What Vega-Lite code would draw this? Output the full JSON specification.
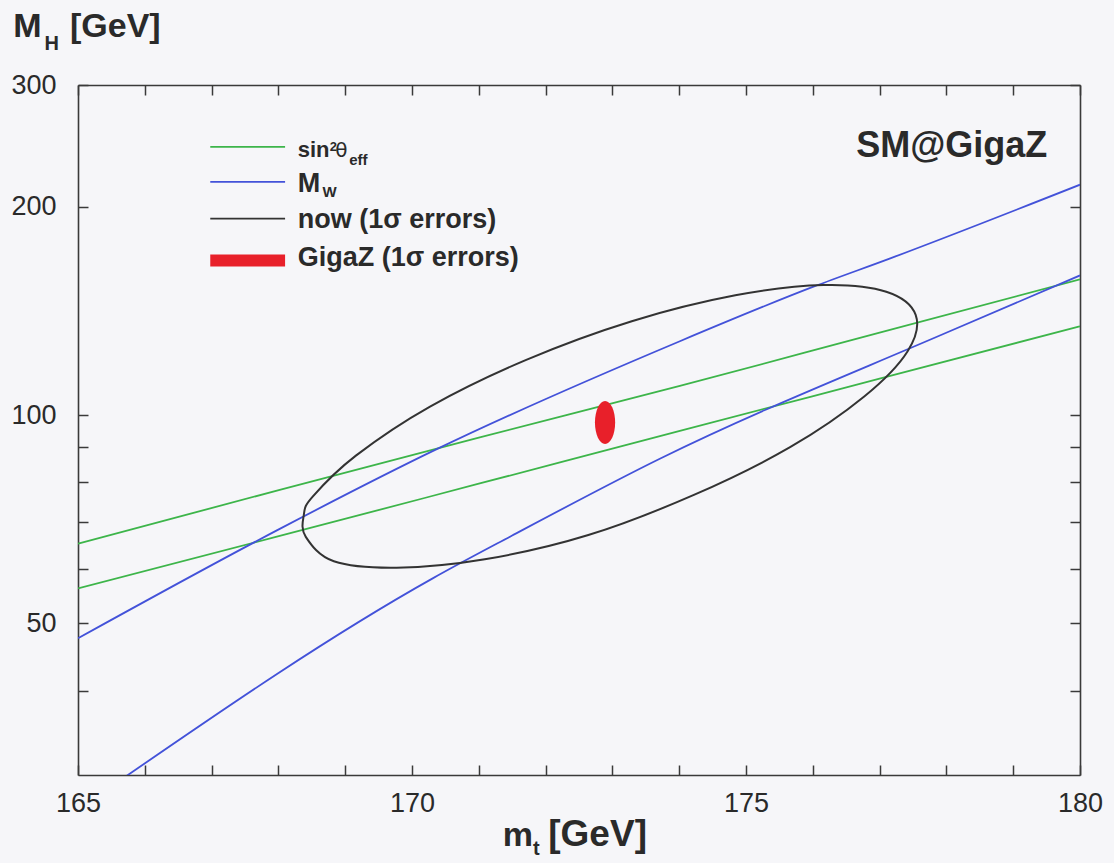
{
  "$schema": "https://vega.github.io/schema/vega-lite/v6.json",
  "width": 1002,
  "height": 690,
  "autosize": {"type": "none"},
  "padding": {"left": 78, "top": 85, "right": 34, "bottom": 88},
  "background": "#f6f6f9",
  "config": {
    "view": {"stroke": null},
    "axis": {"grid": false, "domainColor": "#3a3a3a", "domainWidth": 1.6, "tickColor": "#3a3a3a", "tickWidth": 1.5, "labelFont": "Liberation Sans", "labelFontSize": 27, "labelColor": "#2a2a2a", "labelFlush": false, "labelOverlap": false, "labelBound": false},
    "text": {"font": "Liberation Sans", "fontWeight": "bold", "color": "#2a2a2a"}
  },
  "resolve": {"axis": {"x": "independent", "y": "independent"}},
  "datasets": {
    "curves": [
      {"c": "g1", "s": "sin2", "mt": 165, "MH": 65.2},
      {"c": "g1", "s": "sin2", "mt": 168.02, "MH": 78.0},
      {"c": "g1", "s": "sin2", "mt": 171, "MH": 92.8},
      {"c": "g1", "s": "sin2", "mt": 174.01, "MH": 110.2},
      {"c": "g1", "s": "sin2", "mt": 177, "MH": 131.6},
      {"c": "g1", "s": "sin2", "mt": 180, "MH": 157.1},
      {"c": "g2", "s": "sin2", "mt": 165, "MH": 56.2},
      {"c": "g2", "s": "sin2", "mt": 168.02, "MH": 66.9},
      {"c": "g2", "s": "sin2", "mt": 171, "MH": 79.6},
      {"c": "g2", "s": "sin2", "mt": 174.01, "MH": 94.9},
      {"c": "g2", "s": "sin2", "mt": 177, "MH": 112.9},
      {"c": "g2", "s": "sin2", "mt": 180, "MH": 134.4},
      {"c": "w1", "s": "MW", "mt": 165, "MH": 47.6},
      {"c": "w1", "s": "MW", "mt": 168.02, "MH": 68.5},
      {"c": "w1", "s": "MW", "mt": 170.37, "MH": 89.3},
      {"c": "w1", "s": "MW", "mt": 174.01, "MH": 127.9},
      {"c": "w1", "s": "MW", "mt": 176.03, "MH": 153.6},
      {"c": "w1", "s": "MW", "mt": 177.16, "MH": 168.5},
      {"c": "w1", "s": "MW", "mt": 180, "MH": 215.3},
      {"c": "w2", "s": "MW", "mt": 165.66, "MH": 29.8},
      {"c": "w2", "s": "MW", "mt": 170.31, "MH": 58.1},
      {"c": "w2", "s": "MW", "mt": 171.5, "MH": 67.0},
      {"c": "w2", "s": "MW", "mt": 173.71, "MH": 86.5},
      {"c": "w2", "s": "MW", "mt": 178.05, "MH": 132.2},
      {"c": "w2", "s": "MW", "mt": 180, "MH": 159.2}
    ],
    "ellipse": [
      {"o": 1, "mt": 177.54, "MH": 139.6},
      {"o": 2, "mt": 177.42, "MH": 123.7},
      {"o": 3, "mt": 176.77, "MH": 106.4},
      {"o": 4, "mt": 175.66, "MH": 89.9},
      {"o": 5, "mt": 174.22, "MH": 76.7},
      {"o": 6, "mt": 172.64, "MH": 67.1},
      {"o": 7, "mt": 171.09, "MH": 61.9},
      {"o": 8, "mt": 169.77, "MH": 60.2},
      {"o": 9, "mt": 168.83, "MH": 61.5},
      {"o": 10, "mt": 168.41, "MH": 66.7},
      {"o": 11, "mt": 168.38, "MH": 71.7},
      {"o": 12, "mt": 168.51, "MH": 76.2},
      {"o": 13, "mt": 169.16, "MH": 87.4},
      {"o": 14, "mt": 170.27, "MH": 102.9},
      {"o": 15, "mt": 171.71, "MH": 120.2},
      {"o": 16, "mt": 173.29, "MH": 136.7},
      {"o": 17, "mt": 174.84, "MH": 149.0},
      {"o": 18, "mt": 176.16, "MH": 154.2},
      {"o": 19, "mt": 177.1, "MH": 150.8}
    ],
    "legendLines": [
      {"s": "sin2", "mt": 166.98, "MH": 244.2},
      {"s": "sin2", "mt": 168.1, "MH": 244.2},
      {"s": "MW", "mt": 166.98, "MH": 217.4},
      {"s": "MW", "mt": 168.1, "MH": 217.4},
      {"s": "now", "mt": 166.98, "MH": 192.3},
      {"s": "now", "mt": 168.1, "MH": 192.3}
    ],
    "legendBar": [
      {"s": "GigaZ", "mt": 166.98, "MH": 167.3},
      {"s": "GigaZ", "mt": 168.1, "MH": 167.3}
    ],
    "blob": [{"s": "GigaZ", "mt": 172.89, "MH": 97.6}],
    "texts": [
      {"t": "sin", "r": "sin", "mt": 168.29, "MH": 236.2},
      {"t": "2", "r": "sup", "mt": 168.77, "MH": 240.5},
      {"t": "eff", "r": "sub", "mt": 169.06, "MH": 230.1},
      {"t": "M", "r": "leg", "mt": 168.29, "MH": 210.4},
      {"t": "W", "r": "sub", "mt": 168.66, "MH": 206.9},
      {"t": "now (1σ errors)", "r": "leg", "mt": 168.29, "MH": 186.7},
      {"t": "GigaZ (1σ errors)", "r": "leg", "mt": 168.29, "MH": 164.0},
      {"t": "M", "r": "title", "mt": 164.03, "MH": 351.8},
      {"t": "H", "r": "tsub", "mt": 164.5, "MH": 336.9},
      {"t": "[GeV]", "r": "title", "mt": 164.88, "MH": 351.8},
      {"t": "m", "r": "title", "mt": 171.36, "MH": 23.87},
      {"t": "t", "r": "tsub", "mt": 171.81, "MH": 23.16},
      {"t": "[GeV]", "r": "titleb", "mt": 172.04, "MH": 23.87}
    ],
    "theta": [{"t": "θ", "mt": 168.85, "MH": 236.2}],
    "tag": [{"t": "SM@GigaZ", "mt": 179.51, "MH": 236.2}]
  },
  "layer": [
    {
      "data": {"name": "curves"},
      "mark": {"type": "line", "interpolate": "monotone", "strokeWidth": 1.8, "clip": true},
      "encoding": {
        "x": {"field": "mt", "type": "quantitative", "scale": {"domain": [165, 180]},
              "axis": {"orient": "bottom", "title": null, "values": [165,166,167,168,169,170,171,172,173,174,175,176,177,178,179,180], "format": "d", "labelExpr": "datum.value % 5 === 0 ? datum.label : ''", "tickSize": -10, "labelPadding": 25}},
        "y": {"field": "MH", "type": "quantitative", "scale": {"type": "log", "domain": [30.2, 300]},
              "axis": {"orient": "left", "title": null, "values": [40,50,60,70,80,90,100,200,300], "format": "d", "labelExpr": "indexof([50,100,200,300], datum.value) >= 0 ? datum.label : ''", "tickSize": -10, "labelPadding": 32}},
        "color": {"field": "s", "type": "nominal", "scale": {"domain": ["sin2", "MW", "now", "GigaZ"], "range": ["#3db54a", "#4352d9", "#333333", "#e8202a"]}, "legend": null},
        "detail": {"field": "c"}
      }
    },
    {
      "data": {"name": "ellipse"},
      "mark": {"type": "line", "interpolate": "cardinal-closed", "strokeWidth": 2, "color": "#333333", "strokeJoin": "round"},
      "encoding": {
        "x": {"field": "mt", "type": "quantitative", "scale": {"domain": [165, 180]},
              "axis": {"orient": "top", "title": null, "values": [165,166,167,168,169,170,171,172,173,174,175,176,177,178,179,180], "labels": false, "tickSize": -10}},
        "y": {"field": "MH", "type": "quantitative", "scale": {"type": "log", "domain": [30.2, 300]},
              "axis": {"orient": "right", "title": null, "values": [40,50,60,70,80,90,100,200,300], "labels": false, "tickSize": -10}},
        "order": {"field": "o", "type": "quantitative"}
      }
    },
    {
      "data": {"name": "legendLines"},
      "mark": {"type": "line", "strokeWidth": 1.8},
      "encoding": {
        "x": {"field": "mt", "type": "quantitative", "scale": {"domain": [165, 180]}, "axis": null},
        "y": {"field": "MH", "type": "quantitative", "scale": {"type": "log", "domain": [30.2, 300]}, "axis": null},
        "color": {"field": "s", "type": "nominal", "scale": {"domain": ["sin2", "MW", "now", "GigaZ"], "range": ["#3db54a", "#4352d9", "#333333", "#e8202a"]}, "legend": null},
        "detail": {"field": "s"}
      }
    },
    {
      "data": {"name": "legendBar"},
      "mark": {"type": "line", "strokeWidth": 12, "strokeCap": "butt", "color": "#e8202a"},
      "encoding": {
        "x": {"field": "mt", "type": "quantitative", "scale": {"domain": [165, 180]}, "axis": null},
        "y": {"field": "MH", "type": "quantitative", "scale": {"type": "log", "domain": [30.2, 300]}, "axis": null}
      }
    },
    {
      "data": {"name": "blob"},
      "mark": {"type": "point", "filled": true, "opacity": 1, "color": "#e8202a", "size": 1849, "shape": "M0,-1 A0.47,1 0 1,1 0,1 A0.47,1 0 1,1 0,-1 Z"},
      "encoding": {
        "x": {"field": "mt", "type": "quantitative", "scale": {"domain": [165, 180]}, "axis": null},
        "y": {"field": "MH", "type": "quantitative", "scale": {"type": "log", "domain": [30.2, 300]}, "axis": null}
      }
    },
    {
      "data": {"name": "texts"},
      "transform": [{"filter": "datum.r === 'sin'"}],
      "mark": {"type": "text", "align": "left", "baseline": "alphabetic", "fontSize": 22},
      "encoding": {
        "x": {"field": "mt", "type": "quantitative", "scale": {"domain": [165, 180]}, "axis": null},
        "y": {"field": "MH", "type": "quantitative", "scale": {"type": "log", "domain": [30.2, 300]}, "axis": null},
        "text": {"field": "t"}
      }
    },
    {
      "data": {"name": "texts"},
      "transform": [{"filter": "datum.r === 'sup'"}],
      "mark": {"type": "text", "align": "left", "baseline": "alphabetic", "fontSize": 13},
      "encoding": {
        "x": {"field": "mt", "type": "quantitative", "scale": {"domain": [165, 180]}, "axis": null},
        "y": {"field": "MH", "type": "quantitative", "scale": {"type": "log", "domain": [30.2, 300]}, "axis": null},
        "text": {"field": "t"}
      }
    },
    {
      "data": {"name": "texts"},
      "transform": [{"filter": "datum.r === 'sub'"}],
      "mark": {"type": "text", "align": "left", "baseline": "alphabetic", "fontSize": 15},
      "encoding": {
        "x": {"field": "mt", "type": "quantitative", "scale": {"domain": [165, 180]}, "axis": null},
        "y": {"field": "MH", "type": "quantitative", "scale": {"type": "log", "domain": [30.2, 300]}, "axis": null},
        "text": {"field": "t"}
      }
    },
    {
      "data": {"name": "texts"},
      "transform": [{"filter": "datum.r === 'leg'"}],
      "mark": {"type": "text", "align": "left", "baseline": "alphabetic", "fontSize": 27},
      "encoding": {
        "x": {"field": "mt", "type": "quantitative", "scale": {"domain": [165, 180]}, "axis": null},
        "y": {"field": "MH", "type": "quantitative", "scale": {"type": "log", "domain": [30.2, 300]}, "axis": null},
        "text": {"field": "t"}
      }
    },
    {
      "data": {"name": "texts"},
      "transform": [{"filter": "datum.r === 'title'"}],
      "mark": {"type": "text", "align": "left", "baseline": "alphabetic", "fontSize": 34},
      "encoding": {
        "x": {"field": "mt", "type": "quantitative", "scale": {"domain": [165, 180]}, "axis": null},
        "y": {"field": "MH", "type": "quantitative", "scale": {"type": "log", "domain": [30.2, 300]}, "axis": null},
        "text": {"field": "t"}
      }
    },
    {
      "data": {"name": "texts"},
      "transform": [{"filter": "datum.r === 'titleb'"}],
      "mark": {"type": "text", "align": "left", "baseline": "alphabetic", "fontSize": 37},
      "encoding": {
        "x": {"field": "mt", "type": "quantitative", "scale": {"domain": [165, 180]}, "axis": null},
        "y": {"field": "MH", "type": "quantitative", "scale": {"type": "log", "domain": [30.2, 300]}, "axis": null},
        "text": {"field": "t"}
      }
    },
    {
      "data": {"name": "texts"},
      "transform": [{"filter": "datum.r === 'tsub'"}],
      "mark": {"type": "text", "align": "left", "baseline": "alphabetic", "fontSize": 20},
      "encoding": {
        "x": {"field": "mt", "type": "quantitative", "scale": {"domain": [165, 180]}, "axis": null},
        "y": {"field": "MH", "type": "quantitative", "scale": {"type": "log", "domain": [30.2, 300]}, "axis": null},
        "text": {"field": "t"}
      }
    },
    {
      "data": {"name": "theta"},
      "mark": {"type": "text", "align": "left", "baseline": "alphabetic", "fontWeight": "normal", "fontSize": 20, "font": "DejaVu Sans"},
      "encoding": {
        "x": {"field": "mt", "type": "quantitative", "scale": {"domain": [165, 180]}, "axis": null},
        "y": {"field": "MH", "type": "quantitative", "scale": {"type": "log", "domain": [30.2, 300]}, "axis": null},
        "text": {"field": "t"}
      }
    },
    {
      "data": {"name": "tag"},
      "mark": {"type": "text", "align": "right", "baseline": "alphabetic", "fontSize": 36},
      "encoding": {
        "x": {"field": "mt", "type": "quantitative", "scale": {"domain": [165, 180]}, "axis": null},
        "y": {"field": "MH", "type": "quantitative", "scale": {"type": "log", "domain": [30.2, 300]}, "axis": null},
        "text": {"field": "t"}
      }
    }
  ]
}
